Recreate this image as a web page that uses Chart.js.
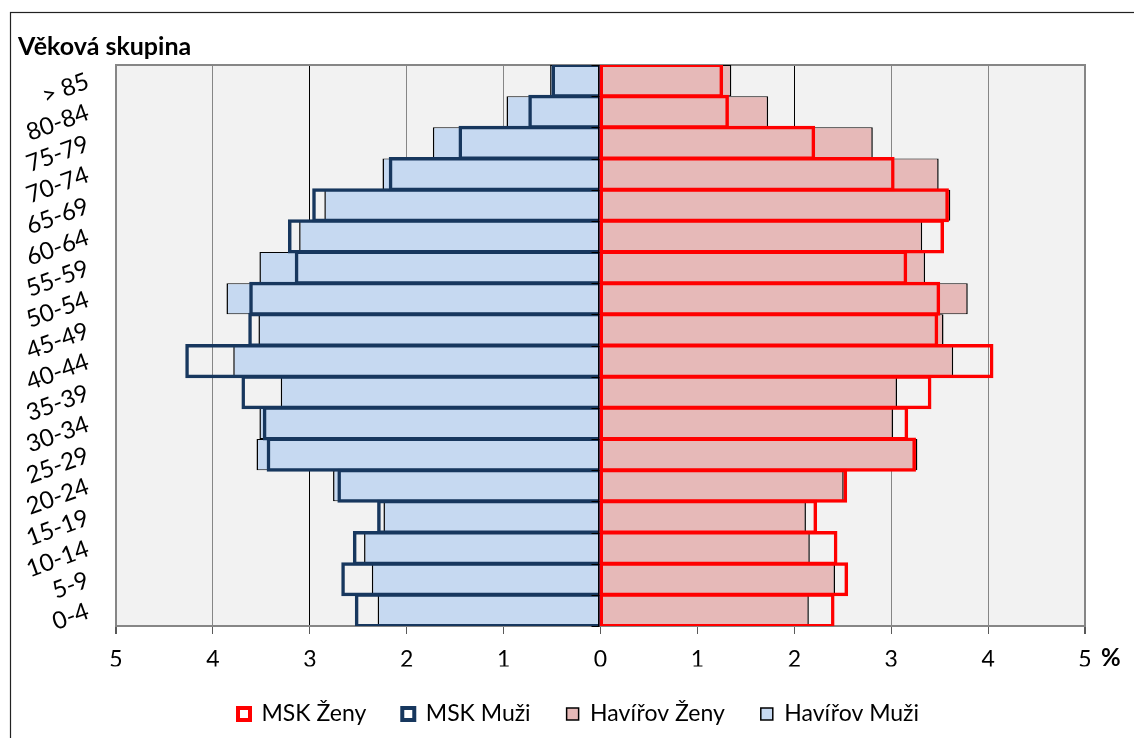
<!DOCTYPE html>
<html>
<head>
<meta charset="utf-8">
<script src="https://cdn.jsdelivr.net/npm/chart.js@4.4.1/dist/chart.umd.min.js"></script>
<style>
  html, body { margin: 0; padding: 0; background: #fff; }
  #wrap { width: 1134px; height: 738px; position: relative; }
</style>
</head>
<body>
<div id="wrap"><canvas id="c"></canvas></div>
<script>
// Categories bottom -> top
const CATEGORIES = ['0-4','5-9','10-14','15-19','20-24','25-29','30-34','35-39','40-44','45-49','50-54','55-59','60-64','65-69','70-74','75-79','80-84','> 85'];
// Percent of population (absolute values)
const MSK_ZENY     = [2.40, 2.54, 2.43, 2.22, 2.53, 3.24, 3.16, 3.40, 4.04, 3.47, 3.49, 3.15, 3.53, 3.58, 3.02, 2.20, 1.31, 1.25];
const MSK_MUZI     = [2.52, 2.66, 2.54, 2.29, 2.70, 3.43, 3.47, 3.69, 4.27, 3.62, 3.61, 3.14, 3.21, 2.96, 2.17, 1.45, 0.73, 0.49];
const HAVIROV_ZENY = [2.15, 2.42, 2.16, 2.12, 2.51, 3.27, 3.02, 3.06, 3.64, 3.54, 3.79, 3.35, 3.32, 3.61, 3.49, 2.81, 1.73, 1.35];
const HAVIROV_MUZI = [2.30, 2.36, 2.44, 2.24, 2.76, 3.55, 3.52, 3.30, 3.79, 3.53, 3.86, 3.52, 3.11, 2.85, 2.25, 1.73, 0.97, 0.52];
const SERIES_NAMES = ['MSK Ženy', 'MSK Muži', 'Havířov Ženy', 'Havířov Muži'];
const X_MIN = -5, X_MAX = 5;
const Y_TITLE = 'Věková skupina';
const X_UNIT = '%';

const FONT = 'Lato, "Open Sans", sans-serif';
const LEGEND_PAD = 36;
const neg = arr => arr.map(v => -v);

const frame = {
  id: 'frame',
  afterLayout(chart) {
    // legend in the reference is centred slightly to the right
    if (chart.legend) { chart.legend.left += 31; chart.legend.right += 31; }
  },
  beforeDraw(chart) {
    const {ctx, chartArea: a} = chart;
    ctx.save();
    ctx.strokeStyle = '#222';
    ctx.lineWidth = 1.2;
    ctx.strokeRect(10.5, 12.5, 1400, 1000);
    ctx.fillStyle = '#f2f2f2';
    ctx.fillRect(a.left, a.top, a.right - a.left, a.bottom - a.top);
    ctx.fillStyle = '#000';
    ctx.font = 'bold 25px ' + FONT;
    ctx.textBaseline = 'middle';
    ctx.textAlign = 'left';
    ctx.fillText(Y_TITLE, 18, 47);
    ctx.font = 'bold 24px ' + FONT;
    ctx.fillText(X_UNIT, 1101, 658);
    ctx.restore();
  },
  beforeDatasetsDraw(chart) {
    const {ctx, chartArea: a} = chart;
    ctx.save();
    ctx.strokeStyle = '#868686';
    ctx.lineWidth = 2;
    ctx.strokeRect(a.left, a.top, a.right - a.left, a.bottom - a.top);
    ctx.restore();
  },
  afterDatasetsDraw(chart) {
    const {ctx, chartArea: a} = chart;
    const xs = chart.scales.x;
    const x0 = xs.getPixelForValue(0);
    ctx.save();
    ctx.strokeStyle = '#000';
    ctx.lineWidth = 1;
    ctx.beginPath();
    ctx.moveTo(x0 - 2, a.top);
    ctx.lineTo(x0 - 2, a.bottom);
    const n = CATEGORIES.length;
    const step = (a.bottom - a.top) / n;
    for (let i = 0; i <= n; i++) {
      const y = Math.round(a.top + i * step) + 0.5;
      ctx.moveTo(x0 - 9, y);
      ctx.lineTo(x0 - 1, y);
    }
    ctx.stroke();
    ctx.restore();
  }
};

const ctx = document.getElementById('c');
const chart = new Chart(ctx, {
  type: 'bar',
  data: {
    labels: CATEGORIES,
    datasets: [
      { label: SERIES_NAMES[0], data: MSK_ZENY, backgroundColor: 'rgba(0,0,0,0)', borderColor: '#ff0000',
        borderWidth: 0.5, inflateAmount: 1.5, borderSkipped: false, grouped: false },
      { label: SERIES_NAMES[1], data: neg(MSK_MUZI), backgroundColor: 'rgba(0,0,0,0)', borderColor: '#17375e',
        borderWidth: 0.5, inflateAmount: 1.5, borderSkipped: false, grouped: false },
      { label: SERIES_NAMES[2], data: HAVIROV_ZENY, backgroundColor: '#e6b9b8', borderColor: '#000',
        borderWidth: {top: 1, bottom: 1, left: 1.5, right: 1.5}, inflateAmount: 0, borderSkipped: false, grouped: false },
      { label: SERIES_NAMES[3], data: neg(HAVIROV_MUZI), backgroundColor: '#c6d9f1', borderColor: '#000',
        borderWidth: {top: 1, bottom: 1, left: 1.5, right: 1.5}, inflateAmount: 0, borderSkipped: false, grouped: false }
    ]
  },
  options: {
    indexAxis: 'y',
    responsive: true,
    maintainAspectRatio: false,
    animation: false,
    barPercentage: 1,
    categoryPercentage: 1,
    layout: { padding: { left: 10, right: 49, top: 65, bottom: 2.5 } },
    scales: {
      x: {
        min: X_MIN, max: X_MAX,
        ticks: {
          stepSize: 1,
          padding: 12,
          color: '#000',
          font: { family: FONT, size: 23 },
          callback: v => Math.abs(v)
        },
        grid: {
          color: c => (c.tick && (c.tick.value === -3 || c.tick.value === 2)) ? '#000' : '#868686',
          lineWidth: c => (c.tick && Math.abs(c.tick.value) === 5) ? 2 : 1,
          tickLength: 8,
          tickColor: '#595959'
        },
        border: { display: true, color: '#868686', width: 2 },
        afterFit: s => { s.height = 76.5 - LEGEND_PAD; }
      },
      y: {
        reverse: true,
        grid: { display: false, drawTicks: false },
        border: { display: false },
        ticks: {
          autoSkip: false,
          minRotation: 20,
          maxRotation: 20,
          padding: 28,
          color: '#000',
          font: { family: FONT, size: 24 }
        },
        afterFit: s => { s.width = 106; }
      }
    },
    plugins: {
      tooltip: { enabled: false },
      legend: {
        position: 'bottom',
        labels: {
          font: { family: FONT, size: 23 },
          color: '#000',
          boxWidth: 12,
          boxHeight: 12,
          padding: LEGEND_PAD,
          generateLabels: (ch) => {
            const items = Chart.defaults.plugins.legend.labels.generateLabels(ch);
            items.forEach((it, i) => {
              it.lineWidth = i < 2 ? 4 : 1.5;
              it.fillStyle = i < 2 ? '#ffffff' : it.fillStyle;
            });
            return items;
          }
        }
      }
    }
  },
  plugins: [frame]
});
</script>
</body>
</html>
